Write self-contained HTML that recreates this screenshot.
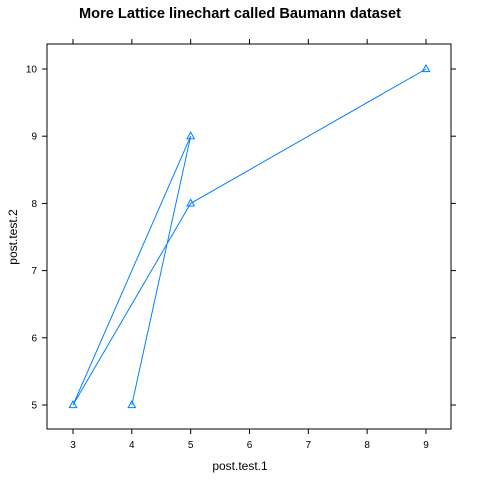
<!DOCTYPE html>
<html><head><meta charset="utf-8"><style>
body{margin:0;background:#fff}
svg{display:block;font-family:"Liberation Sans",sans-serif}
</style></head><body>
<svg id="chart" width="480" height="480">
<text x="240" y="18" text-anchor="middle" font-size="14.6" font-weight="bold">More Lattice linechart called Baumann dataset</text>
<rect x="47" y="44" width="404" height="385" fill="none" stroke="#000" stroke-width="1"/>
<text x="240" y="470" text-anchor="middle" font-size="12">post.test.1</text>
<text x="17" y="237" text-anchor="middle" font-size="12" transform="rotate(-90 17 237)">post.test.2</text>
<g id="axes"></g>
<g id="marks"></g>
</svg>
<script>
const xs=[4,5,3,5,9];
const ys=[5,9,5,8,10];
const xTicks=[3,4,5,6,7,8,9];
const yTicks=[5,6,7,8,9,10];
const sx=v=>73+(v-3)*58.83;
const sy=v=>405-(v-5)*67.2;
const NS="http://www.w3.org/2000/svg";
const axes=document.getElementById('axes');
const marks=document.getElementById('marks');
function mk(tag,attrs,parent){const e=document.createElementNS(NS,tag);for(const k in attrs)e.setAttribute(k,attrs[k]);parent.appendChild(e);return e;}
xTicks.forEach(t=>{
  const x=sx(t);
  const b=mk('line',{x1:x,x2:x,y1:429,y2:434,stroke:'#000'},axes);
  
  
  const tp=mk('line',{x1:x,x2:x,y1:44,y2:39,stroke:'#000'},axes);
  
  
  const l=mk('text',{x:x,y:448,'text-anchor':'middle','font-size':10},axes);
  l.textContent=t;
  
  
});
yTicks.forEach(t=>{
  const y=sy(t);
  const a=mk('line',{x1:47,x2:42,y1:y,y2:y,stroke:'#000'},axes);
  
  
  const r=mk('line',{x1:451,x2:456,y1:y,y2:y,stroke:'#000'},axes);
  
  
  const l=mk('text',{x:37,y:y+3.5,'text-anchor':'end','font-size':10},axes);
  l.textContent=t;
  
  
});
const pts=xs.map((v,i)=>sx(v)+','+sy(ys[i])).join(' ');
const pl=mk('polyline',{points:pts,fill:'none',stroke:'#0080ff','stroke-width':1},marks);


xs.forEach((v,i)=>{
  const x=sx(v),y=sy(ys[i]);
  const p=mk('polygon',{points:`${x},${y-4} ${x-3.7},${y+2.6} ${x+3.7},${y+2.6}`,fill:'none',stroke:'#0080ff','stroke-width':1},marks);
  
  
});
</script>
</body></html>
